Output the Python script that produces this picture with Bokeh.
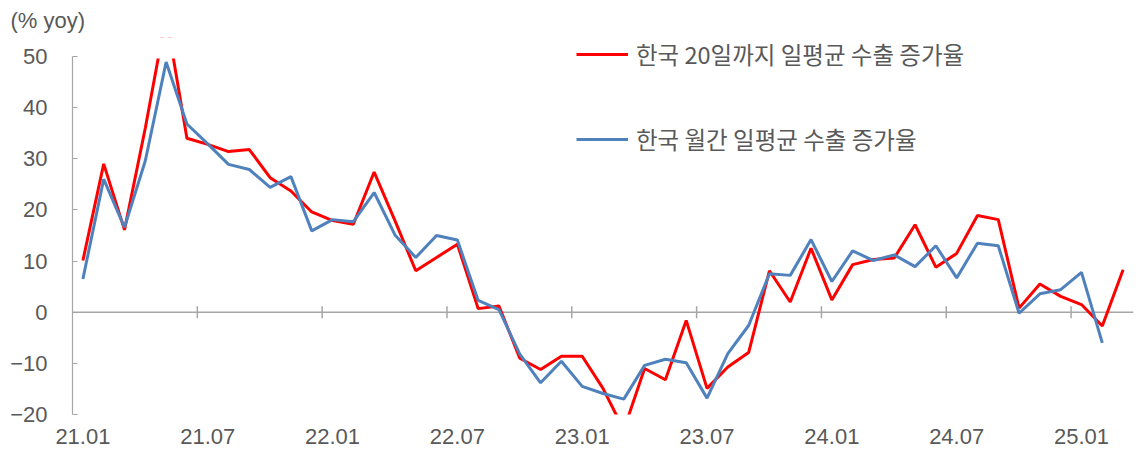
from bokeh.plotting import figure
from bokeh.models import (ColumnDataSource, Legend, LegendItem, FixedTicker,
                          Span, Title)
from bokeh.embed import file_html
from bokeh.resources import INLINE

# ---- data -------------------------------------------------------------
months = [f"{y:02d}.{m:02d}" for y in range(21, 26) for m in range(1, 13)][:51]

red_20day = [10.1, 29.0, 16.1, 36.0, 58.0, 34.0, 32.8, 31.4, 31.8, 26.3,
             23.7, 19.6, 17.9, 17.2, 27.4, 17.9, 8.1, 10.7, 13.3, 0.7,
             1.2, -9.0, -11.2, -8.6, -8.6, -14.9, -23.0, -11.0, -13.2, -1.6,
             -14.9, -10.7, -7.9, 8.1, 2.0, 12.5, 2.4, 9.3, 10.3, 10.6,
             17.1, 8.8, 11.5, 18.9, 18.1, 0.8, 5.5, 3.1, 1.5, -2.7,
             8.3]
blue_month = [6.5, 26.0, 16.6, 29.6, 48.9, 36.8, 32.9, 28.9, 27.9, 24.4,
              26.5, 15.9, 18.1, 17.7, 23.4, 15.1, 10.7, 15.0, 14.1, 2.3,
              0.5, -8.2, -13.8, -9.6, -14.5, -15.9, -17.0, -10.4, -9.2, -9.9,
              -16.8, -8.1, -2.6, 7.5, 7.2, 14.2, 6.0, 12.0, 10.1, 11.2,
              8.9, 13.0, 6.7, 13.5, 13.0, -0.2, 3.6, 4.4, 7.8, -6.0]

label_red = "한국 20일까지 일평균 수출 증가율"
label_blue = "한국 월간 일평균 수출 증가율"
unit_text = "(% yoy)"
tick_labels = ["21.01", "21.07", "22.01", "22.07", "23.01", "23.07",
               "24.01", "24.07", "25.01"]
y_ticks = [-20, -10, 0, 10, 20, 30, 40, 50]
y_min, y_max = -20, 50

# ---- figure -----------------------------------------------------------
GRAY_TXT = "#595959"
GRAY_LINE = "#a6a6a6"
FONT_KR = "Noto Sans CJK KR"
FONT_NUM = "Liberation Sans"

FRAME_TOP = 36
# value axis spans 55px..414px
px_per_unit = (414 - 55) / (y_max - y_min)
y_top = y_max + (55 - FRAME_TOP) / px_per_unit
x_lo, x_hi = -0.5, len(months) - 0.5

p = figure(width=1143, height=454, output_backend="svg", toolbar_location=None,
           x_range=(x_lo, x_hi), y_range=(y_min, y_top),
           min_border_left=72, min_border_right=10, min_border_top=FRAME_TOP,
           min_border_bottom=40)
p.outline_line_color = None
p.grid.grid_line_color = None
p.background_fill_color = "white"

red_src = ColumnDataSource(dict(x=list(range(len(red_20day))), y=red_20day))
blue_src = ColumnDataSource(dict(x=list(range(len(blue_month))), y=blue_month))

r_red = p.line("x", "y", source=red_src, line_color="#ff0000", line_width=3)
r_blue = p.line("x", "y", source=blue_src, line_color="#4f81bd", line_width=3)

# mask everything above the top of the value axis (drawn after the lines)
p.quad(left=[x_lo - 1], right=[x_hi + 1], bottom=[y_max], top=[y_top + 20],
       fill_color="white", line_color="white", line_width=4)

# zero line with crossing tick marks between categories
p.add_layout(Span(location=0, dimension="width", line_color=GRAY_LINE,
                  line_width=1.5, level="underlay"))
idx_ticks = [months.index(t) for t in tick_labels]
bx = [i - 0.5 for i in idx_ticks[1:]]
p.scatter(bx, [0] * len(bx), marker="dash", angle=1.5708, size=12,
          line_color=GRAY_LINE, line_width=1.5, level="underlay")

# y axis
ya = p.yaxis[0]
ya.bounds = (y_min, y_max)
ya.ticker = FixedTicker(ticks=y_ticks)
ya.major_label_overrides = {v: (str(v).replace("-", "−")) for v in y_ticks}
ya.major_tick_in = 5
ya.major_tick_out = 0
ya.minor_tick_line_color = None
ya.axis_line_color = GRAY_LINE
ya.axis_line_width = 1.2
ya.major_tick_line_color = GRAY_LINE
ya.major_tick_line_width = 1.2
ya.major_label_standoff = 25
ya.major_label_text_font = FONT_NUM
ya.major_label_text_font_size = "22px"
ya.major_label_text_color = GRAY_TXT

# x axis: labels only
xa = p.xaxis[0]
xa.ticker = FixedTicker(ticks=idx_ticks)
xa.major_label_overrides = {i: t for i, t in zip(idx_ticks, tick_labels)}
xa.axis_line_color = None
xa.major_tick_line_color = None
xa.minor_tick_line_color = None
xa.major_tick_out = 0
xa.major_tick_in = 0
xa.major_label_standoff = 14
xa.major_label_text_font = FONT_NUM
xa.major_label_text_font_size = "22px"
xa.major_label_text_color = GRAY_TXT

# legend
legend = Legend(items=[LegendItem(label=label_red, renderers=[r_red]),
                       LegendItem(label=label_blue, renderers=[r_blue])],
                location=(504, 258), orientation="vertical",
                glyph_width=52, glyph_height=32, label_height=32,
                label_standoff=8, spacing=51, padding=0, margin=0,
                border_line_color=None, background_fill_alpha=0,
                label_text_font=FONT_KR, label_text_font_size="23.5px",
                label_text_color=GRAY_TXT)
p.add_layout(legend, "center")

# unit label
p.add_layout(Title(text=unit_text, align="left", offset=-62, standoff=10,
                   text_font=FONT_NUM, text_font_size="22px",
                   text_font_style="normal", text_color=GRAY_TXT), "above")

open("out.html", "w").write(file_html(p, INLINE))
